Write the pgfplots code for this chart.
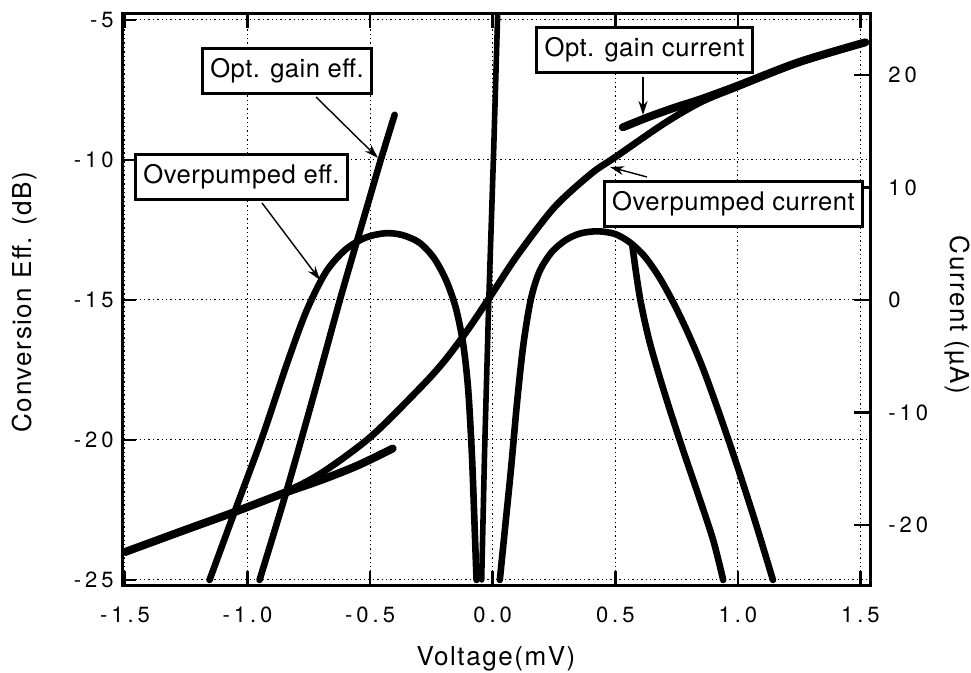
\documentclass[border=0pt]{standalone}
\usepackage{fontspec}
\setmainfont{TeX Gyre Heros}
\newfontfamily\tickfnt[LetterSpace=18]{TeX Gyre Heros}
\newfontfamily\labfnt[LetterSpace=6]{TeX Gyre Heros}
\newfontfamily\boxfnt[LetterSpace=2]{TeX Gyre Heros}
\usepackage{pgfplots}
\pgfplotsset{compat=1.18}
\usetikzlibrary{arrows.meta}
\begin{document}
\begin{tikzpicture}[
  lbl/.style={draw=black, line width=1.5pt, fill=white,
    font=\boxfnt\fontsize{12.8}{14}\selectfont,
    inner xsep=4pt, inner ysep=5pt, text height=9.4pt, text depth=2.7pt},
  arr/.style={black, line width=0.7pt, -{Stealth[length=7pt,width=4.5pt]}}
]
\begin{axis}[
  width=374pt, height=285.5pt, scale only axis,
  xmin=-1.512, xmax=1.539, ymin=-25.18, ymax=-4.79,
  xtick={-1.5,-1,-0.5,0,0.5,1,1.5},
  xticklabels={-1.5,-1.0,-0.5,0.0,0.5,1.0,1.5},
  ytick={-25,-20,-15,-10,-5},
  yticklabels={-25,-20,-15,-10,-5},
  xtick pos=both, xticklabel pos=lower,
  ytick pos=left,
  tick align=inside,
  major tick length=7pt,
  every tick/.style={black, line width=1.3pt},
  axis line style={black, line width=1.5pt},
  grid=major,
  grid style={black, line width=0.5pt, dash pattern=on 0.7pt off 1.5pt},
  tick label style={font=\tickfnt\fontsize{11}{13}\selectfont},
  xticklabel style={anchor=base, inner sep=0pt, yshift=-18.5pt},
  yticklabel style={anchor=east, inner sep=0pt, xshift=-4pt},
  xlabel={Voltage(mV)}, ylabel={Conversion Eff. (dB)},
  label style={font=\labfnt\fontsize{13}{15}\selectfont},
  xlabel style={at={(rel axis cs:0.5,-0.1401)}, anchor=base, inner sep=0pt},
  ylabel style={at={(rel axis cs:-0.1297,0.4956)}, anchor=center, inner sep=0pt},
  clip=false,
  every axis plot/.append style={black, line cap=round, line join=round},
]
% Overpumped eff., negative bias
\addplot[line width=3.3pt, smooth, tension=0.5] coordinates {
(-1.155,-25) (-1.05,-22.5) (-0.94,-19.9) (-0.84,-17.3) (-0.76,-15.4)
(-0.68,-14.0) (-0.60,-13.2) (-0.52,-12.78) (-0.44,-12.62) (-0.37,-12.68)
(-0.30,-12.95) (-0.24,-13.5) (-0.19,-14.3) (-0.15,-15.3) (-0.12,-16.6)
(-0.10,-18.2) (-0.085,-20.5) (-0.075,-22.8) (-0.066,-25)};
% Overpumped eff., positive bias
\addplot[line width=3.3pt, smooth, tension=0.5] coordinates {
(0.029,-25) (0.052,-23.0) (0.075,-21.0) (0.10,-18.6) (0.125,-16.6) (0.155,-15.0)
(0.19,-14.0) (0.24,-13.3) (0.30,-12.85) (0.36,-12.62) (0.43,-12.55) (0.50,-12.65)
(0.56,-12.95) (0.62,-13.45) (0.68,-14.2) (0.74,-15.15) (0.80,-16.25) (0.86,-17.5)
(0.93,-19.2) (1.00,-21.0) (1.07,-22.9) (1.143,-25)};
% Opt. gain eff., negative bias
\addplot[line width=3.3pt, smooth, tension=0.5] coordinates {
(-0.951,-25) (-0.84,-21.8) (-0.73,-18.4) (-0.62,-14.9) (-0.52,-11.9)
(-0.46,-10.1) (-0.40,-8.39)};
% Opt. gain eff., positive bias
\addplot[line width=3.3pt, smooth, tension=0.5] coordinates {
(0.57,-13.1) (0.60,-14.9) (0.64,-16.5) (0.70,-18.3) (0.77,-20.2)
(0.84,-22.0) (0.90,-23.6) (0.94,-25)};
% Opt. gain eff., near zero bias
\addplot[line width=2.8pt] coordinates {
(-0.045,-25) (-0.033,-20.36) (-0.016,-15.0) (0.004,-9.64) (0.020,-4.86)};
\end{axis}
\begin{axis}[
  width=374pt, height=285.5pt, scale only axis,
  xmin=-1.512, xmax=1.539, ymin=-25.33, ymax=25.42,
  hide x axis,
  axis y line*=right,
  ytick={-20,-10,0,10,20}, yticklabels={-20,-10,0,10,20},
  tick align=inside, major tick length=8pt,
  every tick/.style={black, line width=1.3pt},
  axis line style={black, line width=1.5pt},
  yticklabel style={anchor=west, inner sep=0pt, xshift=9pt, font=\tickfnt\fontsize{11}{13}\selectfont},
  ylabel={Current (µA)},
  ylabel style={at={(rel axis cs:1.1163,0.4729)}, anchor=center, rotate=180, inner sep=0pt, font=\labfnt\fontsize{13}{15}\selectfont},
  clip=false,
  every axis plot/.append style={black, line cap=round, line join=round},
]
% Overpumped current
\addplot[line width=3.4pt, smooth, tension=0.5] coordinates {
(-1.50,-22.4) (-1.25,-20.4) (-1.06,-18.9) (-0.85,-17.1) (-0.70,-15.4)
(-0.50,-12.2) (-0.30,-7.9) (-0.20,-5.5) (-0.10,-2.6) (0.0,0.65) (0.10,3.95)
(0.25,8.2) (0.40,11.2) (0.50,12.7) (0.70,15.7) (0.85,17.6) (1.00,18.95)
(1.25,21.1) (1.52,22.9)};
% Opt. gain current, negative bias
\addplot[line width=4pt, smooth, tension=0.5] coordinates {
(-1.50,-22.4) (-1.25,-20.4) (-1.06,-18.9) (-0.85,-17.15) (-0.70,-16.0)
(-0.55,-14.7) (-0.408,-13.2)};
% Opt. gain current, positive bias
\addplot[line width=4pt, smooth, tension=0.5] coordinates {
(0.531,15.35) (0.64,16.3) (0.75,17.15) (0.85,17.85) (1.00,19.05)
(1.25,21.15) (1.52,22.9)};
% annotations
\node[lbl] at (rel axis cs:0.2206,0.9002) {Opt. gain eff.};
\node[lbl] at (rel axis cs:0.1598,0.7145) {Overpumped eff.};
\node[lbl] at (rel axis cs:0.6985,0.9370) {Opt. gain current};
\node[lbl] at (rel axis cs:0.8175,0.6673) {Overpumped current};
\draw[arr] (rel axis cs:0.2594,0.8546) -- (rel axis cs:0.3422,0.7478);
\draw[arr] (rel axis cs:0.1872,0.6690) -- (rel axis cs:0.2647,0.5342);
\draw[arr] (rel axis cs:0.6965,0.8897) -- (rel axis cs:0.6965,0.8231);
\draw[arr] (rel axis cs:0.7019,0.7145) -- (rel axis cs:0.6524,0.7320);
\coordinate (bbsw) at (rel axis cs:-0.1631,-0.1541);
\coordinate (bbne) at (rel axis cs:1.1350,1.0245);
\end{axis}
\pgfresetboundingbox
\useasboundingbox (bbsw) rectangle (bbne);
\end{tikzpicture}
\end{document}
